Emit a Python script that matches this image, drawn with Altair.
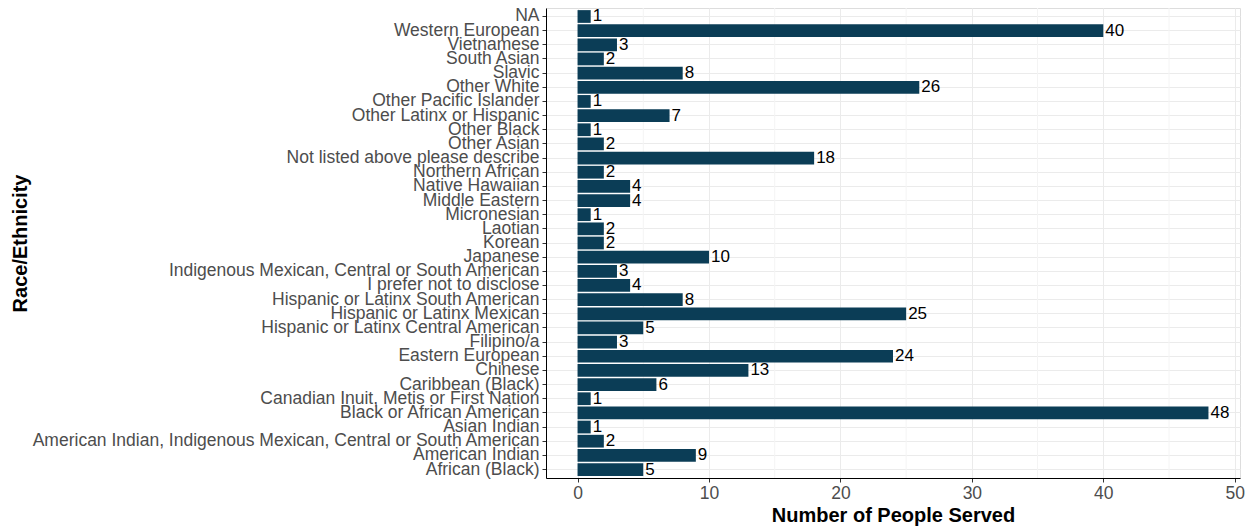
import altair as alt
import pandas as pd

categories = [
    "African (Black)", "American Indian",
    "American Indian, Indigenous Mexican, Central or South American",
    "Asian Indian", "Black or African American",
    "Canadian Inuit, Metis or First Nation", "Caribbean (Black)", "Chinese",
    "Eastern European", "Filipino/a", "Hispanic or Latinx Central American",
    "Hispanic or Latinx Mexican", "Hispanic or Latinx South American",
    "I prefer not to disclose",
    "Indigenous Mexican, Central or South American", "Japanese", "Korean",
    "Laotian", "Micronesian", "Middle Eastern", "Native Hawaiian",
    "Northern African", "Not listed above please describe", "Other Asian",
    "Other Black", "Other Latinx or Hispanic", "Other Pacific Islander",
    "Other White", "Slavic", "South Asian", "Vietnamese", "Western European",
    "NA",
]
values = [5, 9, 2, 1, 48, 1, 6, 13, 24, 3, 5, 25, 8, 4, 3, 10, 2, 2, 1, 4, 4,
          2, 18, 2, 1, 7, 1, 26, 8, 2, 3, 40, 1]
minor_ticks = [5, 15, 25, 35, 45]

df = pd.DataFrame({"cat": categories, "n": values})
minor = pd.DataFrame({"m": minor_ticks})

order = categories[::-1]
xscale = alt.Scale(domain=[-2.4, 50.4], nice=False, zero=False)
yscale = alt.Scale(domain=order, paddingInner=0.1, paddingOuter=0.15)

FONT = "Liberation Sans"

minor_rules = alt.Chart(minor).mark_rule(color="#F4F4F4", strokeWidth=1).encode(
    x=alt.X("m:Q", scale=xscale)
)

bars = alt.Chart(df).mark_bar(color="#0B3D56").encode(
    x=alt.X("n:Q", scale=xscale,
            axis=alt.Axis(values=[0, 10, 20, 30, 40, 50], title="Number of People Served",
                          grid=True, gridColor="#EBEBEB", labelFontSize=17.5,
                          labelColor="#4D4D4D", labelFont=FONT,
                          titleFont=FONT, titleFontSize=20,
                          titleFontWeight="bold", titleColor="black",
                          domainColor="black", tickColor="#333333", tickSize=4,
                          labelPadding=2, titlePadding=4)),
    y=alt.Y("cat:N", scale=yscale, sort=order,
            axis=alt.Axis(title="Race/Ethnicity", grid=True, gridColor="#EBEBEB",
                          labelFontSize=17.5, labelColor="#4D4D4D",
                          labelFont=FONT, titleFont=FONT,
                          titleFontSize=20, titleFontWeight="bold",
                          titleColor="black", domainColor="black",
                          tickColor="#333333", tickSize=4, labelPadding=3,
                          labelLimit=0, titleX=-526, titleY=235,
                          titleAngle=270, titleAlign="center",
                          titleBaseline="middle")),
)

labels = alt.Chart(df).mark_text(align="left", baseline="middle", dx=2,
                                 fontSize=17, font=FONT,
                                 color="black").encode(
    x=alt.X("n:Q", scale=xscale),
    y=alt.Y("cat:N", scale=yscale, sort=order),
    text=alt.Text("n:Q"),
)

chart = (minor_rules + bars + labels).properties(
    width=694, height=470,
    autosize=alt.AutoSizeParams(type="none"),
    padding={"left": 538, "top": 0, "right": 5, "bottom": 52},
).configure_view(stroke="#7F7F7F", strokeWidth=1).configure(background="white")

chart.save("out.html", embed_options={"renderer": "svg", "actions": False})
